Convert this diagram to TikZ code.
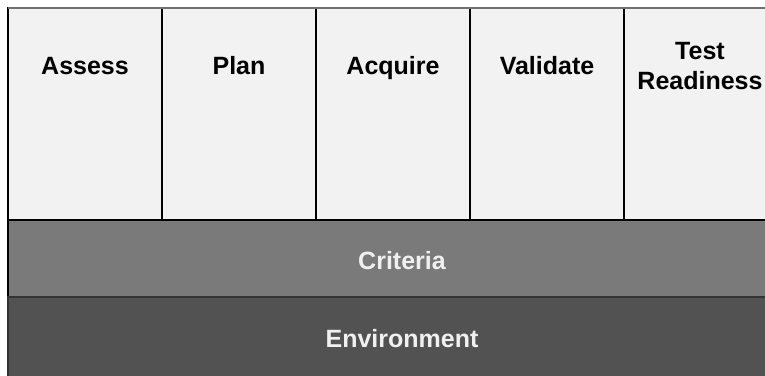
\documentclass[tikz,border=0pt]{standalone}
\usepackage{fontspec}
\setmainfont{Liberation Sans}
\definecolor{stagefill}{HTML}{F2F2F2}
\definecolor{critfill}{HTML}{7A7A7A}
\definecolor{envfill}{HTML}{525252}
\definecolor{bandink}{HTML}{F0F0F0}
\definecolor{rimgray}{HTML}{707070}

\begin{document}
\begin{tikzpicture}[x=1pt,y=-1pt,
  stage/.style={draw=black,line width=1.2pt,fill=stagefill},
  stagetext/.style={font=\bfseries\fontsize{25}{30}\selectfont,align=center},
  bandtext/.style={font=\bfseries\fontsize{25}{30}\selectfont,text=bandink,anchor=base}]
\useasboundingbox (0,0) rectangle (765,375);
\clip (0,0) rectangle (765,375);
% the five stage columns
\draw[stage] (8,8) rectangle (162,220);
\draw[stage] (162,8) rectangle (316,220);
\draw[stage] (316,8) rectangle (470,220);
\draw[stage] (470,8) rectangle (624,220);
\draw[stage] (624,8) rectangle (790,220);
\draw[rimgray,line width=2pt] (8,8) -- (790,8);
% bands underneath
\draw[fill=critfill,draw=black,line width=1.2pt] (8,220) rectangle (790,297);
\draw[fill=envfill,draw=black!80,line width=1.2pt] (8,297) rectangle (790,390);
\node[stagetext,anchor=base] (assess) at (85,74) {Assess};
\node[stagetext,anchor=base] (plan) at (239,74) {Plan};
\node[stagetext,anchor=base] (acquire) at (393,74) {Acquire};
\node[stagetext,anchor=base] (validate) at (547,74) {Validate};
\node[stagetext] (readiness) at (700,66) {Test\\Readiness};
\node[bandtext] (criteria) at (402,269) {Criteria};
\node[bandtext] (environment) at (402,347) {Environment};
\end{tikzpicture}
\end{document}
